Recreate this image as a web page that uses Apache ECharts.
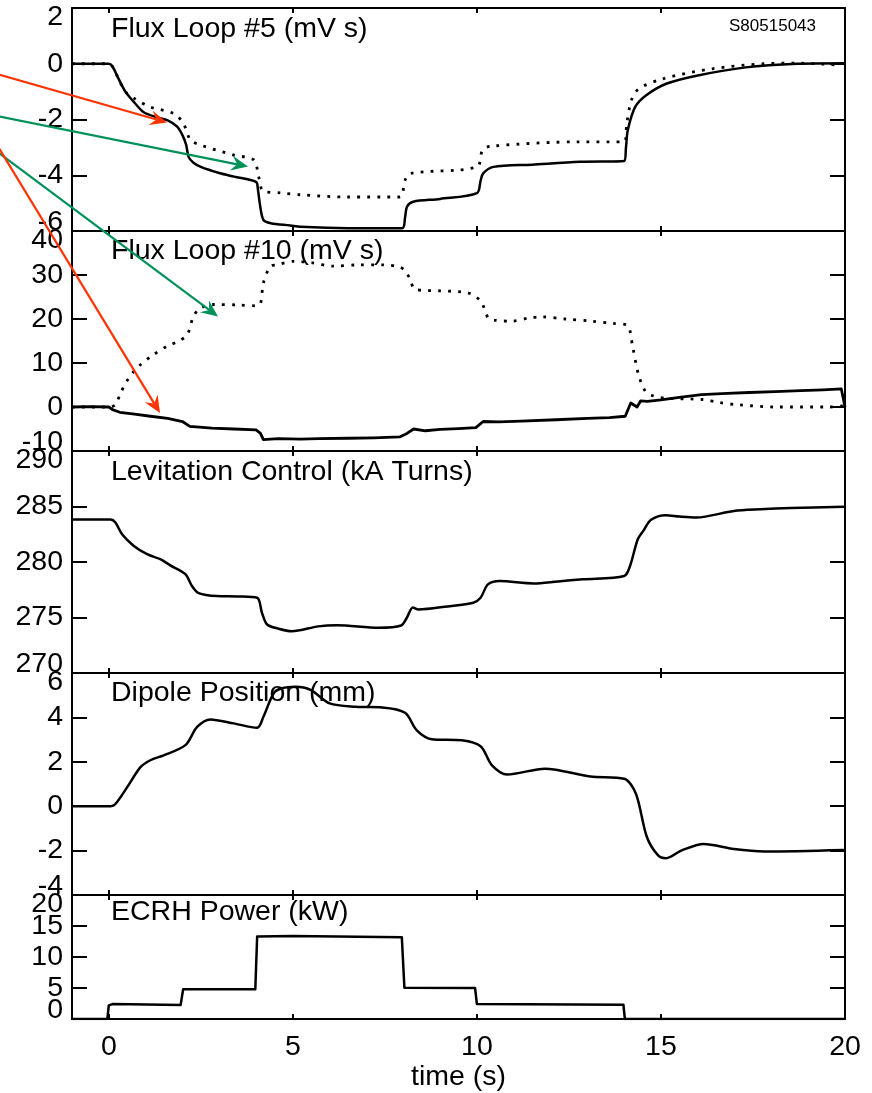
<!DOCTYPE html>
<html><head><meta charset="utf-8">
<script src="https://cdn.jsdelivr.net/npm/echarts@6.0.0/dist/echarts.min.js"></script>
<style>html,body{margin:0;padding:0;background:#fff}#c{width:872px;height:1093px}</style>
</head><body><div id="c"></div>
<script>
// ---------------- data ----------------
const timeTicks = [0, 5, 10, 15, 20];
const panelTitles = ['Flux Loop #5 (mV s)', 'Flux Loop #10 (mV s)', 'Levitation Control (kA Turns)', 'Dipole Position (mm)', 'ECRH Power (kW)'];
const yMin = [-6, -10, 270, -4, 0];
const yMax = [2, 40, 290, 6, 20];
const yStep = [2, 10, 5, 2, 5];
const yTicks = [
  [-6, -4, -2, 0, 2],
  [-10, 0, 10, 20, 30, 40],
  [270, 275, 280, 285, 290],
  [-4, -2, 0, 2, 4, 6],
  [0, 5, 10, 15, 20]
];
const shotLabel = 'S80515043';
const xAxisTitle = 'time (s)';

const flux5Solid = [[-1,0],[0,0],[0.1,-0.1],[0.25,-0.5],[0.45,-1.0],[0.7,-1.4],[0.95,-1.74],[1.3,-1.92],[1.6,-2.03],[1.85,-2.25],[2.0,-2.56],[2.1,-2.9],[2.17,-3.35],[2.3,-3.55],[2.5,-3.7],[3.0,-3.92],[3.4,-4.05],[4.0,-4.24],[4.05,-4.5],[4.1,-5.0],[4.2,-5.6],[4.4,-5.72],[4.93,-5.8],[5.2,-5.85],[6.5,-5.9],[7.97,-5.9],[8.05,-5.5],[8.1,-5.13],[8.27,-4.95],[9.0,-4.85],[10.0,-4.64],[10.1,-4.2],[10.17,-3.93],[10.45,-3.7],[11.5,-3.62],[12.8,-3.52],[14.0,-3.49],[14.05,-3.0],[14.1,-2.38],[14.3,-1.55],[14.6,-1.13],[15.16,-0.71],[16.0,-0.42],[17.3,-0.13],[18.7,0],[20,0.02]];
const flux5Dotted = [[-1,0],[0,0],[0.1,-0.1],[0.25,-0.5],[0.45,-1.0],[0.7,-1.25],[1.13,-1.55],[1.77,-1.79],[2.03,-2.15],[2.22,-2.74],[2.5,-2.92],[3.4,-3.28],[3.94,-3.45],[4.07,-4.05],[4.2,-4.58],[4.66,-4.63],[5.2,-4.7],[6.47,-4.78],[7.9,-4.78],[8.05,-4.17],[8.2,-3.93],[10.0,-3.7],[10.15,-3.1],[10.36,-2.96],[12.8,-2.8],[14.0,-2.8],[14.07,-2.15],[14.2,-1.3],[14.4,-0.9],[15.05,-0.54],[16.4,-0.18],[17.8,0.0],[18.7,0.02],[19.9,-0.05]];
const flux10Solid = [[-1,0],[-0.5,0.1],[0,0],[0.1,-0.6],[0.3,-1.2],[0.7,-1.6],[1.13,-2.1],[1.6,-2.6],[2.0,-3.3],[2.2,-4.4],[2.8,-4.8],[3.4,-5.0],[4.0,-5.2],[4.12,-6.0],[4.2,-7.4],[4.6,-7.2],[5.2,-7.3],[5.7,-7.2],[6.5,-7.1],[7.2,-7.0],[7.9,-6.8],[8.1,-6.0],[8.28,-5.0],[8.6,-5.4],[9.0,-5.1],[9.5,-4.9],[9.97,-4.7],[10.17,-3.3],[10.6,-3.4],[11.2,-3.2],[12.15,-2.9],[13.0,-2.6],[13.6,-2.4],[14.03,-2.1],[14.18,0.9],[14.35,0.0],[14.45,1.4],[14.63,1.3],[15.0,1.6],[15.5,2.2],[16.1,2.8],[16.8,3.1],[17.4,3.3],[18.1,3.5],[18.8,3.7],[19.4,3.9],[19.9,4.1],[20,0]];
const flux10Dotted = [[-1,0],[0,0],[0.18,0.5],[0.32,3.2],[0.5,6.0],[0.68,8.1],[0.86,9.6],[1.2,11.8],[1.58,13.8],[1.9,15.0],[2.13,16.4],[2.3,20.6],[2.49,22.5],[2.85,23.3],[3.5,23.2],[4.0,23.0],[4.12,23.5],[4.2,28.2],[4.39,32],[4.57,32.3],[5.02,33.1],[5.5,32.8],[6.1,32.0],[6.8,32.3],[7.46,32.3],[7.9,31.8],[8.05,31.0],[8.19,28.9],[8.32,26.7],[9.0,26.4],[9.77,25.9],[10.11,24.0],[10.31,20.2],[10.5,19.7],[10.95,19.5],[11.4,20.2],[11.75,20.5],[12.4,20.0],[13.14,19.5],[13.7,19.0],[14.09,18.5],[14.23,13.8],[14.38,7.7],[14.58,3.5],[14.8,2.5],[15.13,2.0],[16.12,1.7],[16.6,1.0],[17.1,0.5],[18.1,0.0],[19.6,0.0],[20,0.3]];
const levitation = [[-1,283.83],[0.05,283.83],[0.18,283.56],[0.36,282.5],[0.68,281.45],[1.04,280.7],[1.4,280.25],[1.67,279.7],[2.08,278.9],[2.26,277.83],[2.44,277.2],[2.94,276.93],[3.5,276.9],[4.03,276.78],[4.16,275.43],[4.3,274.37],[4.6,274.0],[4.97,273.76],[5.69,274.2],[6.2,274.3],[7.33,274.07],[7.94,274.28],[8.1,275.0],[8.26,275.9],[8.41,275.72],[9.2,276.0],[9.9,276.33],[10.1,276.78],[10.3,277.98],[10.62,278.28],[11.54,278.07],[12.2,278.25],[12.88,278.44],[14.0,278.74],[14.16,279.64],[14.37,282.05],[14.52,282.8],[14.73,283.8],[15.13,284.22],[15.5,284.1],[15.96,284.01],[16.98,284.6],[17.7,284.75],[18.52,284.86],[19.97,284.97]];
const dipole = [[-1,0],[0.05,0],[0.18,0.1],[0.5,0.86],[0.86,1.76],[1.13,2.07],[1.49,2.29],[2.08,2.75],[2.4,3.57],[2.76,3.91],[3.39,3.73],[4.03,3.53],[4.2,4.03],[4.48,5.09],[4.7,5.31],[5.07,5.38],[5.48,5.24],[6.0,4.63],[6.71,4.48],[7.43,4.45],[8.05,4.21],[8.36,3.43],[8.77,3.02],[9.59,2.97],[10.1,2.7],[10.41,1.84],[10.82,1.43],[11.85,1.69],[13.08,1.34],[14.0,1.24],[14.32,0.56],[14.62,-1.4],[14.93,-2.23],[15.14,-2.34],[15.55,-2.0],[16.16,-1.7],[16.98,-1.93],[17.81,-2.04],[19.97,-1.97]];
const ecrh = [[-1,0],[-0.04,0],[0.0,2.2],[0.1,2.4],[1.95,2.24],[2.02,4.8],[3.98,4.8],[4.03,13.3],[5,13.4],[7.96,13.2],[8.03,5.06],[9.95,5.0],[10.0,2.4],[13.98,2.3],[14.02,0],[20,0]];

// ---------------- layout ----------------
const FONT = '"Liberation Sans", Arial, Helvetica, sans-serif';
const FS = 28.5;
const panels = [
  {top: 8, height: 223, titleY: 29},
  {top: 231, height: 220, titleY: 251.5},
  {top: 451, height: 222, titleY: 472.5},
  {top: 673, height: 222, titleY: 693.5},
  {top: 895, height: 125, titleY: 912.5}
];
const panelSeries = [
  [{d: flux5Solid}, {d: flux5Dotted, dotted: true}],
  [{d: flux10Solid, w: 2.8, smooth: 0}, {d: flux10Dotted, dotted: true}],
  [{d: levitation}],
  [{d: dipole}],
  [{d: ecrh, smooth: 0}]
];
// panels whose labels are too tightly packed for one axis: split into two label layers
const splitLabelPanels = [4];
const arrows = [
  {from: [-2, 74.4], to: [167, 122.5], color: '#ff3300'},
  {from: [-2, 116.3], to: [248, 166.5], color: '#00915a'},
  {from: [-2, 152.5], to: [218, 316.5], color: '#00915a'},
  {from: [-2, 146.7], to: [160, 413], color: '#ff3300'}
];

const LEFT = 72, WIDTH = 773;
const grid = [], xAxis = [], yAxis = [], series = [], graphic = [];
const extraY = [];
const lineCol = '#000';
const labelBase = {color: '#000', fontSize: FS, fontFamily: FONT, margin: 9, hideOverlap: false, lineHeight: 18};

panels.forEach((p, i) => {
  grid.push({left: LEFT, width: WIDTH, top: p.top, height: p.height, containLabel: false});
  const isLast = i === panels.length - 1;
  xAxis.push({
    type: 'value', gridIndex: i, position: 'bottom', min: -1, max: 20,
    axisLine: {show: true, onZero: false, lineStyle: {color: lineCol, width: 2}},
    axisTick: {show: true, inside: true, length: 5, customValues: timeTicks, lineStyle: {color: lineCol, width: 2}},
    axisLabel: {show: isLast, customValues: timeTicks, color: '#000', fontSize: FS, fontFamily: FONT, margin: 14, hideOverlap: false},
    splitLine: {show: false},
    name: isLast ? xAxisTitle : '', nameLocation: 'middle', nameGap: 44,
    nameTextStyle: {color: '#000', fontSize: FS, fontFamily: FONT}
  });
  xAxis.push({
    type: 'value', gridIndex: i, position: 'top', min: -1, max: 20,
    axisLine: {show: true, onZero: false, lineStyle: {color: lineCol, width: 2}},
    axisTick: {show: true, inside: true, length: 5, customValues: timeTicks, lineStyle: {color: lineCol, width: 2}},
    axisLabel: {show: false, customValues: timeTicks},
    splitLine: {show: false}
  });
  const split = splitLabelPanels.includes(i);
  const mainVals = split ? yTicks[i].filter((v, k) => k % 2 === 0) : yTicks[i];
  const oddVals = yTicks[i].filter((v, k) => k % 2 === 1);
  yAxis.push({
    type: 'value', gridIndex: i, position: 'left', min: yMin[i], max: yMax[i], interval: yStep[i],
    axisLine: {show: true, onZero: false, lineStyle: {color: lineCol, width: 2}},
    axisTick: {show: true, inside: true, length: 15, customValues: mainVals, lineStyle: {color: lineCol, width: 2}},
    axisLabel: Object.assign({}, labelBase, {show: true, customValues: mainVals,
      showMinLabel: true, showMaxLabel: true,
      verticalAlignMinLabel: 'bottom', verticalAlignMaxLabel: 'top'}),
    splitLine: {show: false}
  });
  yAxis.push({
    type: 'value', gridIndex: i, position: 'right', min: yMin[i], max: yMax[i], interval: yStep[i],
    axisLine: {show: true, onZero: false, lineStyle: {color: lineCol, width: 2}},
    axisTick: {show: true, inside: true, length: 15, customValues: yTicks[i], lineStyle: {color: lineCol, width: 2}},
    axisLabel: {show: false, customValues: yTicks[i]},
    splitLine: {show: false}
  });
  if (split) {
    extraY.push({
      type: 'value', gridIndex: i, position: 'left', offset: 0, min: yMin[i], max: yMax[i], interval: yStep[i],
      axisLine: {show: false, onZero: false},
      axisTick: {show: true, inside: true, length: 15, customValues: oddVals, lineStyle: {color: lineCol, width: 2}},
      axisLabel: Object.assign({}, labelBase, {show: true, customValues: oddVals}),
      splitLine: {show: false}
    });
  }
  panelSeries[i].forEach(s => {
    series.push({
      type: 'line', xAxisIndex: 2 * i, yAxisIndex: 2 * i, data: s.d,
      symbol: 'none', showSymbol: false, animation: false,
      smooth: s.smooth === undefined ? 0.3 : s.smooth,
      lineStyle: {color: '#000', width: s.dotted ? 2.8 : (s.w || 2.5), type: s.dotted ? [2.8, 7.2] : 'solid', cap: 'butt', join: 'round'},
      z: 3
    });
  });
  graphic.push({
    type: 'text', x: 111, y: p.titleY, z: 10,
    style: {text: panelTitles[i], font: FS + 'px ' + FONT, fill: '#000', textVerticalAlign: 'middle', verticalAlign: 'middle'}
  });
});
extraY.forEach(a => yAxis.push(a));

graphic.push({
  type: 'text', x: 816, y: 26, z: 10,
  style: {text: shotLabel, font: '17px ' + FONT, fill: '#000', textAlign: 'right', align: 'right', textVerticalAlign: 'middle', verticalAlign: 'middle'}
});

arrows.forEach(a => {
  const [x0, y0] = a.from, [x1, y1] = a.to;
  const dx = x1 - x0, dy = y1 - y0, len = Math.hypot(dx, dy);
  const ux = dx / len, uy = dy / len, nx = -uy, ny = ux;
  const L = 17, W = 7.5, N = 11;
  const notch = [x1 - N * ux, y1 - N * uy];
  graphic.push({type: 'line', z: 20, shape: {x1: x0, y1: y0, x2: notch[0], y2: notch[1]}, style: {stroke: a.color, lineWidth: 2.2}});
  graphic.push({type: 'polygon', z: 20, shape: {points: [
    [x1, y1], [x1 - L * ux + W * nx, y1 - L * uy + W * ny], notch, [x1 - L * ux - W * nx, y1 - L * uy - W * ny]
  ]}, style: {fill: a.color}});
});

const chart = echarts.init(document.getElementById('c'), null, {renderer: 'canvas'});
chart.setOption({animation: false, backgroundColor: '#fff', grid, xAxis, yAxis, series, graphic});
</script></body></html>
